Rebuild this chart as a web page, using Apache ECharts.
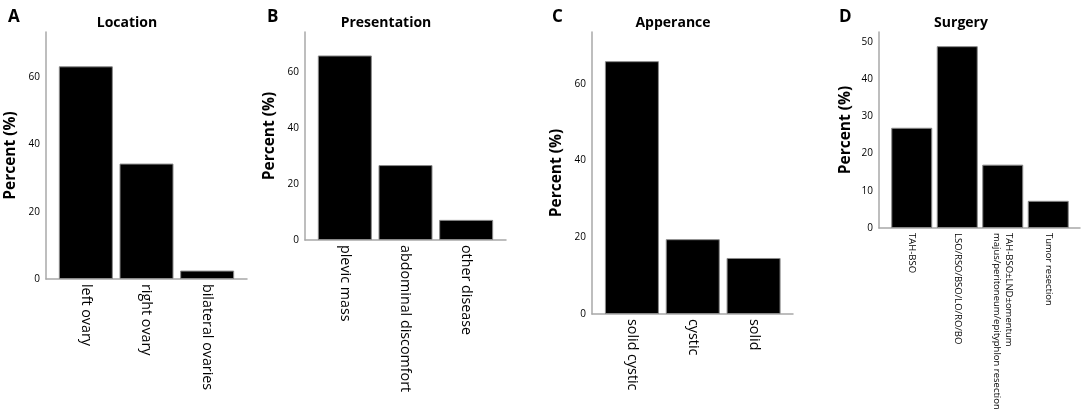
<!DOCTYPE html>
<html>
<head>
<meta charset="utf-8">
<script src="https://cdn.jsdelivr.net/npm/echarts@6/dist/echarts.min.js"></script>
<style>
  html, body { margin: 0; padding: 0; background: #fff; }
  #main { width: 1084px; height: 414px; }
</style>
</head>
<body>
<div id="main"></div>
<script>
// panel data (percent of patients)
var locationCats = ['left ovary', 'right ovary', 'bilateral ovaries'];
var locationPct = [63.2, 34.3, 2.5];

var presentationCats = ['plevic mass', 'abdominal discomfort', 'other disease'];
var presentationPct = [66.0, 26.8, 7.2];

var appearanceCats = ['solid cystic', 'cystic', 'solid'];
var appearancePct = [65.9, 19.5, 14.6];

var surgeryCats = ['TAH-BSO', 'LSO/RSO/BSO/LO/RO/BO',
  'TAH-BSO\u00b1LND\u00b1omentum\nmajus/peritoneum/epityphlon resection', 'Tumor resection'];
var surgeryPct = [26.9, 48.8, 17.0, 7.3];

var panelTitles = ['Location', 'Presentation', 'Apperance', 'Surgery'];
var panelLetters = ['A', 'B', 'C', 'D'];
var yTicksA = [0, 20, 40, 60];
var yTicksD = [0, 10, 20, 30, 40, 50];

var FONT = '"Open Sans", "Liberation Sans", sans-serif';

var figure = {

  // layout of each panel: y axis x, axis bottom, axis end, band of bars, y max
  panels: [
    { cats: locationCats, data: locationPct, axisX: 46, bottom: 279, axisEnd: 247, band: 55.5, bandW: 182, bar: 54, max: 73.4, step: 20, lab: 14.3, lh: 16, letterX: 3, nameGap: 27, titleX: 122 },
    { cats: presentationCats, data: presentationPct, axisX: 305, bottom: 240, axisEnd: 506, band: 314.5, bandW: 182, bar: 54, max: 74.4, step: 20, lab: 14.3, lh: 16, letterX: 262, nameGap: 27, titleX: 381 },
    { cats: appearanceCats, data: appearancePct, axisX: 592, bottom: 314, axisEnd: 793, band: 601.5, bandW: 182.5, bar: 54, max: 73.5, step: 20, lab: 14.3, lh: 16, letterX: 547, nameGap: 27, titleX: 668 },
    { cats: surgeryCats, data: surgeryPct, axisX: 879, bottom: 228, axisEnd: 1080, band: 889, bandW: 182, bar: 41, max: 52.6, step: 10, lab: 9.5, lh: 12, letterX: 834, nameGap: 25, titleX: 956 }
  ],

  buildOption: function () {
    var opt = { animation: false, title: [], grid: [], xAxis: [], yAxis: [], series: [] };
    var top = 32;

    figure.panels.forEach(function (p, i) {
      var h = p.bottom - top;

      opt.title.push({
        text: panelLetters[i], left: p.letterX, top: 4,
        textStyle: { fontFamily: FONT, fontSize: 17, fontWeight: 'bold', color: '#000' }
      });
      opt.title.push({
        text: panelTitles[i], left: p.titleX, top: 11, textAlign: 'center',
        textStyle: { fontFamily: FONT, fontSize: 14, fontWeight: 'bold', color: '#000' }
      });

      // frame grid: y axis and the long baseline
      var g1 = opt.grid.length;
      opt.grid.push({ left: p.axisX, top: top, width: p.axisEnd - p.axisX, height: h, outerBoundsMode: 'none' });
      opt.xAxis.push({
        gridIndex: g1, type: 'value', min: 0, max: 1,
        axisLine: { show: true, lineStyle: { color: '#a8a8a8', width: 1.5 } },
        axisTick: { show: false }, axisLabel: { show: false }, splitLine: { show: false }
      });
      opt.yAxis.push({
        gridIndex: g1, type: 'value', min: 0, max: p.max, interval: p.step,
        name: 'Percent (%)', nameLocation: 'middle', nameGap: p.nameGap,
        nameTextStyle: { fontFamily: FONT, fontSize: 15.5, fontWeight: 'bold', color: '#000' },
        axisLine: { show: true, lineStyle: { color: '#a8a8a8', width: 1.5 } },
        axisTick: { show: false },
        axisLabel: { showMaxLabel: false, margin: 6, fontFamily: FONT, fontSize: 10, color: '#000' },
        splitLine: { show: false }
      });

      // bar grid: categories over the narrower band
      var g2 = opt.grid.length;
      opt.grid.push({ left: p.band, top: top, width: p.bandW, height: h, outerBoundsMode: 'none' });
      opt.xAxis.push({
        gridIndex: g2, type: 'category', data: p.cats,
        axisLine: { show: false }, axisTick: { show: false },
        axisLabel: { rotate: -90, margin: 5, interval: 0, fontFamily: FONT, fontSize: p.lab, color: '#000', lineHeight: p.lh }
      });
      opt.yAxis.push({
        gridIndex: g2, type: 'value', min: 0, max: p.max, show: false
      });
      opt.series.push({
        type: 'bar', xAxisIndex: g2, yAxisIndex: g2, data: p.data,
        barWidth: p.bar,
        itemStyle: { color: '#000', borderColor: '#8a8a8a', borderWidth: 1 }
      });
    });
    return opt;
  },

  initChart: function () {
    var myChart = echarts.init(document.getElementById('main'), null, { renderer: 'canvas' });
    myChart.setOption(figure.buildOption());
  }
};

figure.initChart();
</script>
</body>
</html>
